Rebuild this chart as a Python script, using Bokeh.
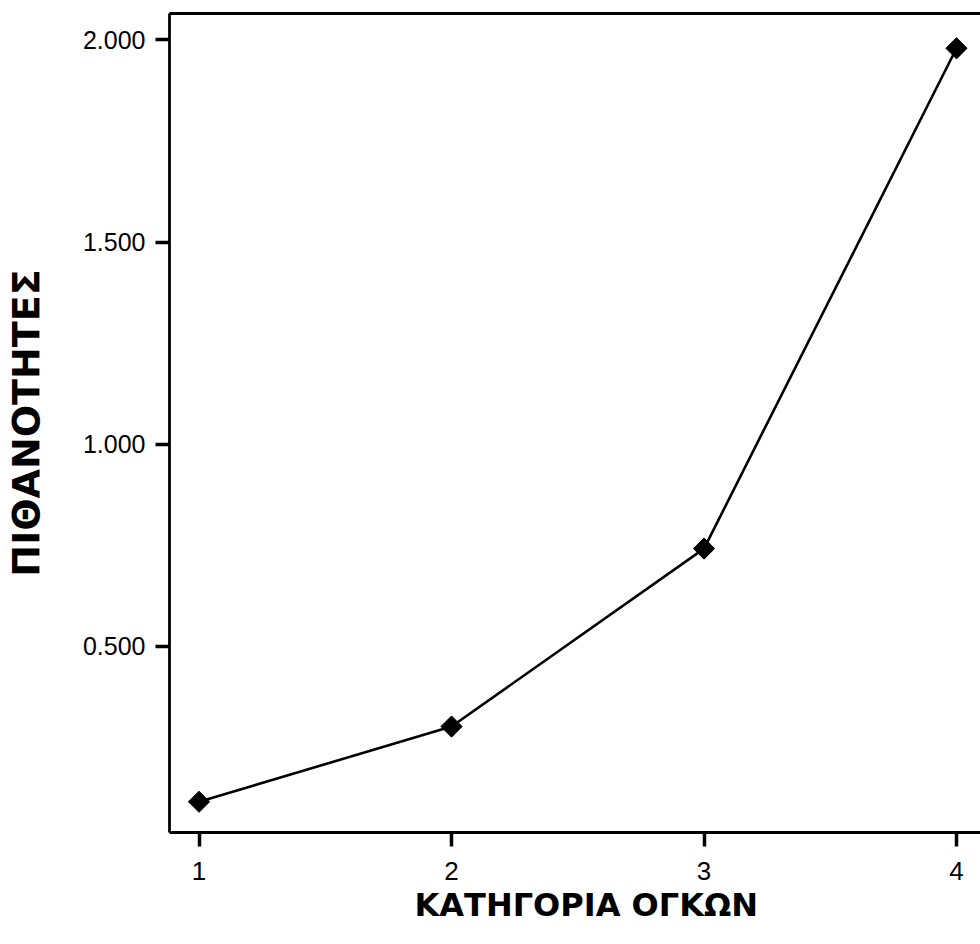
import math
from bokeh.plotting import figure
from bokeh.models import FixedTicker, NumeralTickFormatter, LinearAxis, Title
from bokeh.embed import file_html
from bokeh.resources import INLINE

# Data
categories = [1, 2, 3, 4]
probabilities = [0.116, 0.302, 0.742, 1.979]
x_ticks = [1, 2, 3, 4]
y_ticks = [0.5, 1.0, 1.5, 2.0]
x_title = "ΚΑΤΗΓΟΡΙΑ ΟΓΚΩΝ"
y_title = "ΠΙΘΑΝΟΤΗΤΕΣ"

p = figure(width=980, height=944, x_range=(0.883, 4.095), y_range=(0.040, 2.065),
           output_backend="svg", toolbar_location=None,
           min_border_left=168, min_border_right=0, min_border_top=13, min_border_bottom=112)
p.xgrid.visible = False
p.ygrid.visible = False
p.outline_line_color = None
p.background_fill_color = "white"
p.border_fill_color = "white"

for ax in (p.xaxis[0], p.yaxis[0]):
    ax.axis_line_width = 2.8
    ax.axis_line_color = "black"
    ax.major_tick_out = 14
    ax.major_tick_in = 0
    ax.major_tick_line_width = 3.5
    ax.major_tick_line_color = "black"
    ax.minor_tick_line_color = None
    ax.major_label_standoff = 10
    ax.major_label_text_color = "black"
    ax.major_label_text_font = "Liberation Sans"

p.xaxis[0].ticker = FixedTicker(ticks=x_ticks)
p.xaxis[0].major_label_text_font_size = "26px"
p.xaxis[0].major_label_standoff = 15
p.yaxis[0].ticker = FixedTicker(ticks=y_ticks)
p.yaxis[0].formatter = NumeralTickFormatter(format="0.000")
p.yaxis[0].major_label_text_font_size = "25px"

p.yaxis[0].axis_label = y_title
p.yaxis[0].axis_label_text_font = "DejaVu Sans"
p.yaxis[0].axis_label_text_font_style = "bold"
p.yaxis[0].axis_label_text_font_size = "38px"
p.yaxis[0].axis_label_text_color = "black"
p.yaxis[0].axis_label_standoff = 32

top = LinearAxis(ticker=FixedTicker(ticks=[]), axis_line_width=2.8, axis_line_color="black",
                 major_tick_line_color=None, minor_tick_line_color=None,
                 major_label_text_font_size="0px", major_label_standoff=0,
                 major_tick_out=0, major_tick_in=0)
p.add_layout(top, "above")

xt = Title(text=x_title, align="left", offset=245, text_font="DejaVu Sans",
           text_font_style="bold", text_font_size="32px", text_color="black", standoff=3)
p.add_layout(xt, "below")

p.line(categories, probabilities, line_width=2.6, line_color="black")
p.scatter(categories, probabilities, marker="square", size=15, angle=math.pi / 4,
          fill_color="black", line_color="black")

open("out.html", "w").write(file_html(p, INLINE))
